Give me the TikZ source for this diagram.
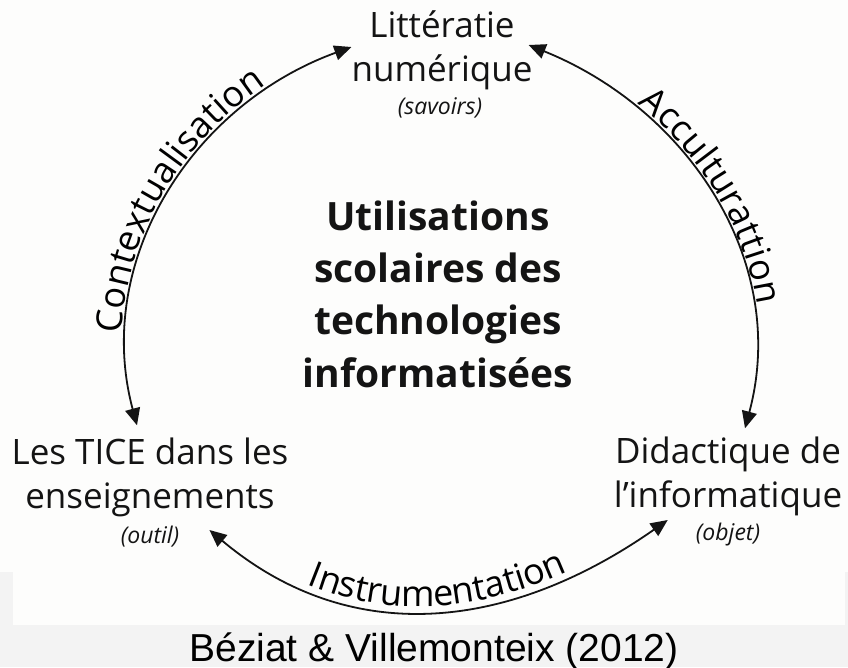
\documentclass[tikz,border=0pt]{standalone}
\usepackage{fontspec}
\usetikzlibrary{arrows.meta,decorations.text}
\newfontfamily\ouvert{Open Sans}
\newfontfamily\arial{Liberation Sans}
\definecolor{fondgris}{RGB}{243,243,243}
\definecolor{fondblanc}{RGB}{253,253,252}
\definecolor{encre}{RGB}{20,20,20}

\begin{document}
\begin{tikzpicture}[x=1pt,y=1pt,
    lbl/.style={align=center,inner sep=2pt,text=encre,font=\ouvert\fontsize{35}{44}\selectfont},
    sub/.style={inner sep=2pt,text=encre,font=\ouvert\itshape\fontsize{23}{28}\selectfont},
    titre/.style={align=center,inner sep=2pt,text=encre,font=\ouvert\bfseries\fontsize{39}{52.3}\selectfont},
    source/.style={inner sep=2pt,text=black,font=\arial\fontsize{39}{46}\selectfont},
    fleche/.style={draw=encre,line width=1.8pt,{Triangle[length=17pt,width=15pt]}-{Triangle[length=17pt,width=15pt]}},
    legende/.style={postaction={decorate,decoration={text along path,text align=center,raise=5pt,
        text={|\ouvert\fontsize{36}{40}\selectfont|#1}}}}]
    \useasboundingbox (0,0) rectangle (848,-667);
    \fill[fondgris] (0,0) rectangle (848,-667);
    \fill[fondblanc] (0,0) rectangle (848,-572);
    \fill[fondblanc] (13,-572) rectangle (845,-625);

    \node[lbl] (lit) at (442,-50) {Littératie\\numérique};
    \node[sub] (savoirs) at (440,-108) {(savoirs)};
    \node[titre] (centre) at (438,-294) {Utilisations\\scolaires des\\technologies\\informatisées};
    \node[lbl] (tice) at (150,-477) {Les TICE dans les\\enseignements};
    \node[sub] (outil) at (150,-537) {(outil)};
    \node[lbl] (did) at (728,-476) {Didactique de\\l’informatique};
    \node[sub] (objet) at (728,-535) {(objet)};
    \node[source] (ref) at (434,-651) {Béziat \& Villemonteix (2012)};

    \draw[fleche,legende=Contextualisation] ([shift={(-13,10)}]tice.north) to[out=105,in=200] ([shift={(2,3)}]lit.west);
    \draw[fleche,legende=Acculturattion] ([shift={(-6,5)}]lit.east) to[out=-22,in=75] ([shift={(17,6)}]did.north);
    \draw[fleche,legende=Instrumentation] ([shift={(28,7)}]outil.east) to[out=-40,in=215,looseness=1.05] ([shift={(-26,15)}]objet.west);
\end{tikzpicture}
\end{document}
